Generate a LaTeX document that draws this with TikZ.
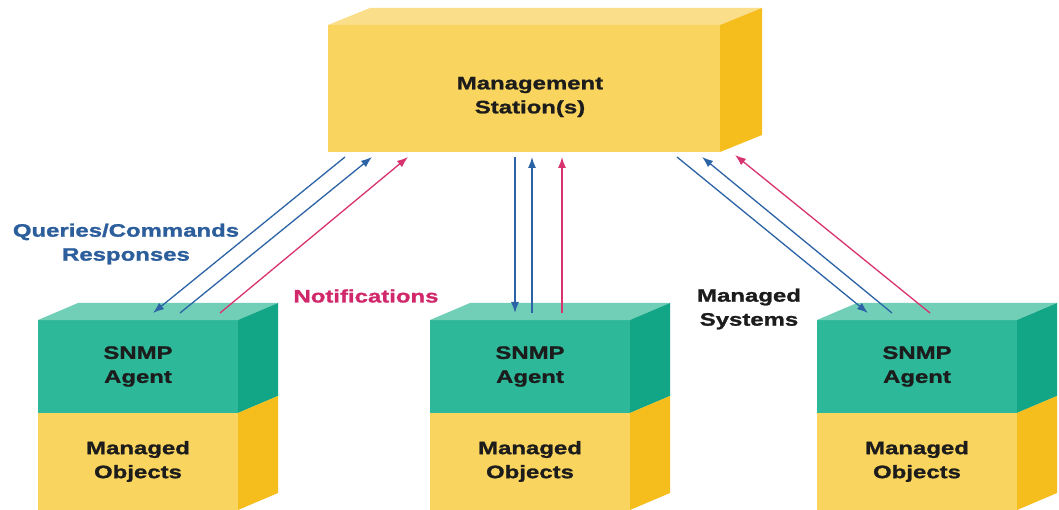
\documentclass[tikz,border=0pt]{standalone}
\usepackage{fontspec}
\setmainfont{Liberation Sans}[FakeStretch=1.33, BoldFeatures={FakeBold=1.3}]
\usetikzlibrary{calc,arrows.meta}
\definecolor{yfront}{HTML}{F9D45E}
\definecolor{yside}{HTML}{F6BE1C}
\definecolor{ytop}{HTML}{FADE8A}
\definecolor{tfront}{HTML}{2EB89A}
\definecolor{tside}{HTML}{12A586}
\definecolor{ttop}{HTML}{72CFB7}
\definecolor{arrblue}{HTML}{2B63A6}
\definecolor{arrmag}{HTML}{D8336F}
\definecolor{txtblue}{HTML}{2C5E9C}
\definecolor{txtmag}{HTML}{D1286C}
\definecolor{txtdark}{HTML}{1C1C1C}
\tikzset{
  face/.style={inner sep=0pt, outer sep=0pt, draw=none},
  lbl/.style={font=\fontsize{18}{24}\selectfont\bfseries, align=center, text=txtdark, inner sep=0pt},
  qarrow/.style={draw=arrblue, line width=1.3pt, -{Latex[length=11pt,width=8pt]}},
  narrow/.style={draw=arrmag, line width=1.3pt, -{Latex[length=11pt,width=8pt]}}
}
\begin{document}
\begin{tikzpicture}[x=1pt,y=-1pt]
\useasboundingbox (0,0) rectangle (1059,510);
\fill[white] (0,0) rectangle (1059,510);

% Management station
\node[face, fill=yfront, minimum width=392pt, minimum height=127pt, anchor=north west] (ms) at (328,25) {};
\fill[ytop] (ms.north west) -- ++(42,-17) -- ++(392,0) -- (ms.north east) -- cycle;
\fill[yside] (ms.north east) -- ++(42,-17) -- ++(0,127) -- (ms.south east) -- cycle;
\node[lbl] (mslabel) at (530,97) {Management\\Station(s)};

% Agents
\foreach \n/\x in {1/38, 2/430, 3/817}{
  \node[face, fill=tfront, minimum width=200pt, minimum height=93pt, anchor=north west] (a\n) at (\x,320) {};
  \node[face, fill=yfront, minimum width=200pt, minimum height=97pt, anchor=north west] (o\n) at (\x,413) {};
  \fill[ttop] (a\n.north west) -- ++(40,-17) -- ++(200,0) -- (a\n.north east) -- cycle;
  \fill[tside] (a\n.north east) -- ++(40,-17) -- ++(0,93) -- (a\n.south east) -- cycle;
  \fill[yside] (o\n.north east) -- ++(40,-17) -- ++(0,97) -- (o\n.south east) -- cycle;
  \node[lbl] (al\n) at (a\n.center) {SNMP\\Agent};
  \node[lbl] (ol\n) at (o\n.center) {Managed\\Objects};
}

% Left group
\draw[qarrow] ($(ms.south west)+(17,5)$) -- ($(a1.north west)+(115,-7)$);
\draw[qarrow] ($(a1.north west)+(142,-7)$) -- ($(ms.south west)+(44,5)$);
\draw[narrow] ($(a1.north west)+(182,-7)$) -- ($(ms.south west)+(80,5)$);
% Middle group
\draw[qarrow] ($(ms.south west)+(187,5)$) -- ($(a2.north west)+(85,-7)$);
\draw[qarrow] ($(a2.north west)+(102,-7)$) -- ($(ms.south west)+(204,5)$);
\draw[narrow] ($(a2.north west)+(132,-7)$) -- ($(ms.south west)+(234,5)$);
% Right group
\draw[qarrow] ($(ms.south west)+(349,5)$) -- ($(a3.north west)+(51,-7)$);
\draw[qarrow] ($(a3.north west)+(75,-7)$) -- ($(ms.south west)+(374,5)$);
\draw[narrow] ($(a3.north west)+(113,-7)$) -- ($(ms.south west)+(407,3)$);

% Labels
\node[lbl, text=txtblue] (qc) at (126,244) {Queries/Commands\\Responses};
\node[lbl, text=txtmag] (nt) at (366,296) {Notifications};
\node[lbl] (msys) at (749,309) {Managed\\Systems};
\end{tikzpicture}
\end{document}
